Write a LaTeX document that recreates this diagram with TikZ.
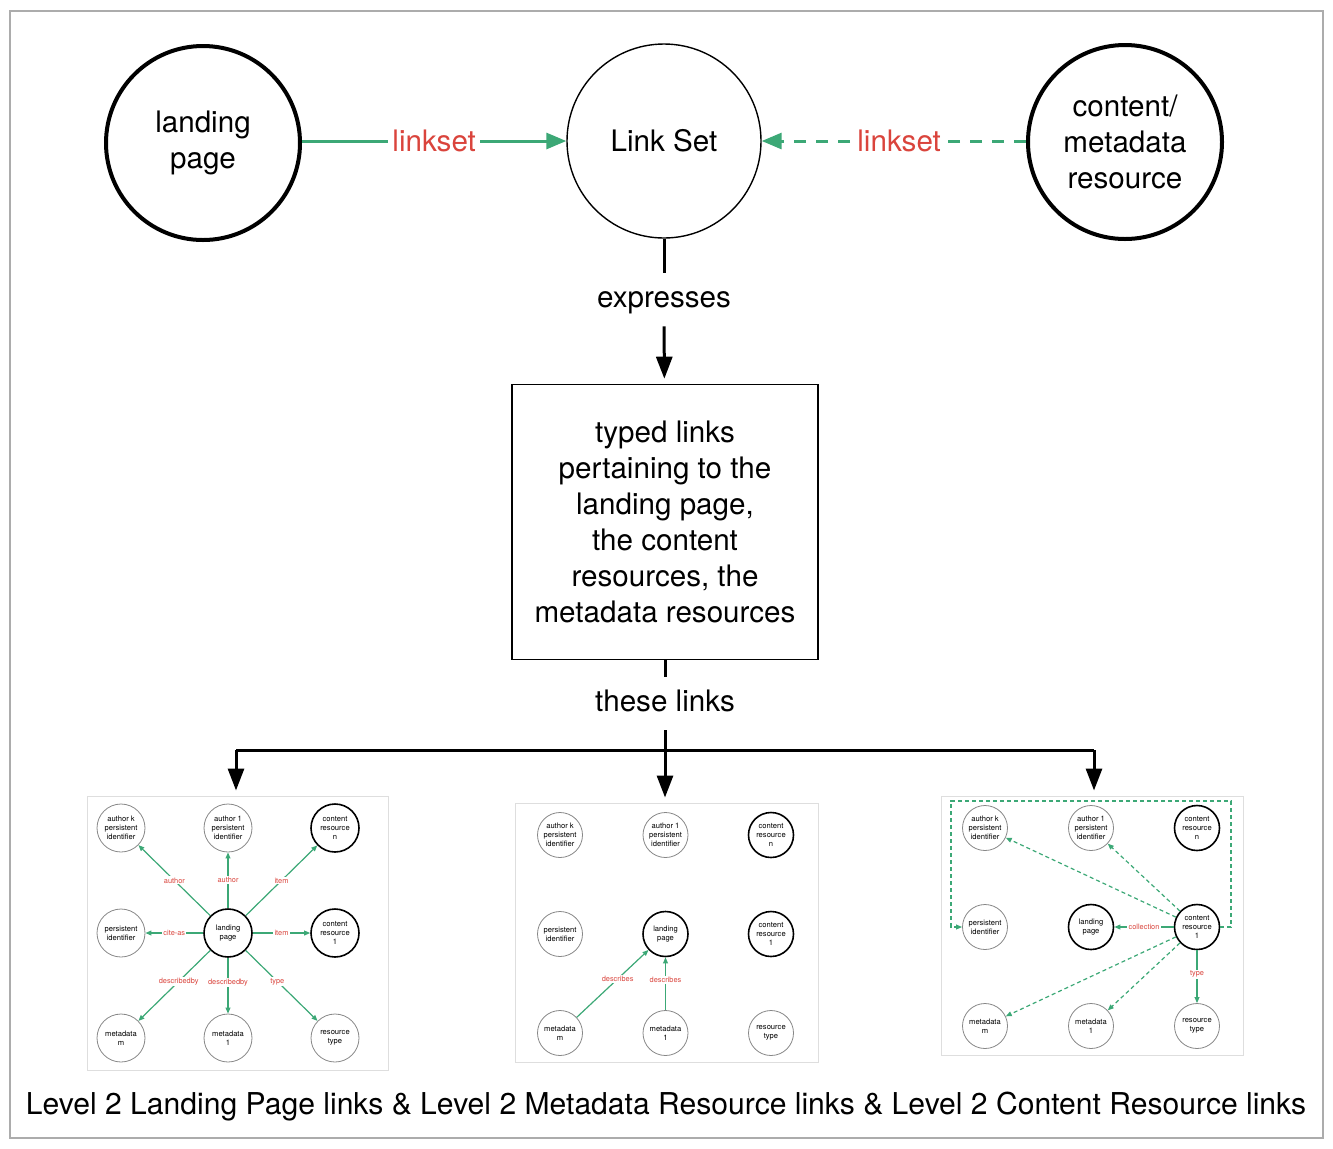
\documentclass[tikz,border=0pt]{standalone}
\usepackage{fontspec}
\setmainfont{TeX Gyre Heros}
\usetikzlibrary{arrows.meta}

\definecolor{lsgreen}{RGB}{60,168,118}
\definecolor{lsred}{RGB}{218,68,60}
\definecolor{framegray}{RGB}{172,172,172}
\definecolor{thumbgray}{RGB}{222,222,222}
\definecolor{circgray}{RGB}{135,135,135}

\tikzset{
	bigcirc/.style={circle, draw, line width=2pt, minimum size=97pt, align=center, font=\fontsize{14.8}{18}\selectfont},
	lbl/.style={fill=white, text=lsred, inner sep=2pt, font=\fontsize{14.8}{18}\selectfont},
	midlbl/.style={minimum height=26.5pt, inner sep=0pt, text height=1.03em, text depth=0.2em, font=\fontsize{14.8}{18}\selectfont},
	greenarrow/.style={draw=lsgreen, line width=1.5pt, -{Triangle[length=10pt,width=8pt]}},
	blackline/.style={draw, line width=1.5pt},
	blackarrow/.style={blackline, -{Triangle[length=11pt,width=8pt]}, shorten >=2.5pt},
	thumb/.style={draw=thumbgray, line width=0.5pt},
	tcirc/.style={circle, draw=circgray, line width=0.4pt, inner sep=0pt, align=center, font=\fontsize{3.8}{4.4}\selectfont},
	tcircb/.style={tcirc, draw=black, line width=0.8pt},
	tarrow/.style={draw=lsgreen, line width=0.6pt, -{Triangle[length=3pt,width=2.4pt]}},
	tdash/.style={tarrow, dash pattern=on 2pt off 1.5pt},
	tlbl/.style={fill=white, text=lsred, inner sep=0.6pt, font=\fontsize{3.7}{4.4}\selectfont}
}

% nine resource circles of one thumbnail: prefix, column step, row step
\newcommand{\thumbgrid}[3]{%
	\node (#1ak) at (0,0) [tcirc] {author k\\persistent\\identifier};
	\node (#1a1) at (#2,0) [tcirc] {author 1\\persistent\\identifier};
	\node (#1cn) at (2*#2,0) [tcircb] {content\\resource\\n};
	\node (#1pi) at (0,#3) [tcirc] {persistent\\identifier};
	\node (#1lp) at (#2,#3) [tcircb] {landing\\page};
	\node (#1c1) at (2*#2,#3) [tcircb] {content\\resource\\1};
	\node (#1mm) at (0,2*#3) [tcirc] {metadata\\m};
	\node (#1m1) at (#2,2*#3) [tcirc] {metadata\\1};
	\node (#1rt) at (2*#2,2*#3) [tcirc] {resource\\type};
}

\begin{document}
\begin{tikzpicture}[x=0.5pt, y=-0.5pt]
	\useasboundingbox (0,0) rectangle (1333,1148);
	\draw[framegray, line width=1pt] (10,10.5) rectangle (1322.5,1137.5);

	% top row
	\node (lp) at (203,143) [bigcirc] {landing\\page};
	\node (ls) at (664,141) [bigcirc, line width=0.7pt] {Link Set};
	\node (cm) at (1125,142) [bigcirc] {content/\\metadata\\resource};
	\draw[greenarrow] (lp.east |- ls) -- (ls) node[midway, lbl] {linkset};
	\draw[greenarrow, dash pattern=on 6pt off 5pt] (cm.west |- ls) -- (ls) node[pos=0.48, lbl] {linkset};

	% middle
	\node (ex) at (664,299.5) [midlbl] {expresses};
	\node (tl) at (665,522) [draw, line width=0.8pt, minimum width=153pt, minimum height=137.5pt, align=center, font=\fontsize{14.8}{18}\selectfont] {typed links\\pertaining to the\\landing page,\\the content\\resources, the\\metadata resources};
	\node (th) at (665,703.5) [midlbl] {these links};
	\draw[blackline] (ls) -- (ex);
	\draw[blackarrow] (ex) -- (tl);
	\draw[blackline] (tl) -- (th);

	% thumbnails
	\node (t1) at (237.5,933) [thumb, minimum width=150.5pt, minimum height=137pt] {};
	\node (t2) at (666.5,932.5) [thumb, minimum width=151.5pt, minimum height=129.5pt] {};
	\node (t3) at (1092,925.5) [thumb, minimum width=151pt, minimum height=129.5pt] {};

	\coordinate (bl) at (236,750);
	\coordinate (bm) at (665,750);
	\coordinate (br) at (1094,750);
	\draw[blackline] (bl) -- (br);
	\draw[blackline] (th) -- (bm);
	\draw[blackarrow] (bl) -- (bl |- t1.north);
	\draw[blackarrow] (bm) -- (bm |- t2.north);
	\draw[blackarrow] (br) -- (br |- t3.north);

	% landing page links
	\begin{scope}[shift={(121,828)}, tcirc/.append style={minimum size=24pt}]
		\thumbgrid{1}{107}{105}
		\draw[tarrow] (1lp) -- (1ak) node[midway, tlbl] {author};
		\draw[tarrow] (1lp) -- (1a1) node[midway, tlbl] {author};
		\draw[tarrow] (1lp) -- (1cn) node[midway, tlbl] {item};
		\draw[tarrow] (1lp) -- (1pi) node[midway, tlbl] {cite-as};
		\draw[tarrow] (1lp) -- (1c1) node[midway, tlbl] {item};
		\draw[tarrow] (1lp) -- (1mm) node[pos=0.44, tlbl] {describedby};
		\draw[tarrow] (1lp) -- (1m1) node[pos=0.44, tlbl] {describedby};
		\draw[tarrow] (1lp) -- (1rt) node[pos=0.44, tlbl] {type};
	\end{scope}

	% metadata resource links
	\begin{scope}[shift={(560,835)}, tcirc/.append style={minimum size=22.5pt}]
		\thumbgrid{2}{105.5}{99}
		\draw[tarrow] (2mm) -- (2lp) node[pos=0.57, tlbl] {describes};
		\draw[tarrow] (2m1) -- (2lp) node[pos=0.57, tlbl] {describes};
	\end{scope}

	% content resource links
	\begin{scope}[shift={(985,828)}, tcirc/.append style={minimum size=22.5pt}]
		\thumbgrid{3}{106}{99}
		\coordinate (3ne) at (246,-27);
		\coordinate (3nw) at (-34,-27);
		\draw[tdash] (3c1) -- (3ak);
		\draw[tdash] (3c1) -- (3a1);
		\draw[tdash] (3c1) -- (3mm);
		\draw[tdash] (3c1) -- (3m1);
		\draw[tdash] (3c1) -- (3c1 -| 3ne) -- (3ne) -- (3nw) -- (3nw |- 3pi) -- (3pi);
		\draw[tarrow] (3c1) -- (3lp) node[midway, tlbl] {collection};
		\draw[tarrow] (3c1) -- (3rt) node[pos=0.45, tlbl] {type};
	\end{scope}

	\node (cap) at (666,1107) [font=\fontsize{15.05}{18}\selectfont] {Level 2 Landing Page links \& Level 2 Metadata Resource links \& Level 2 Content Resource links};
\end{tikzpicture}
\end{document}
